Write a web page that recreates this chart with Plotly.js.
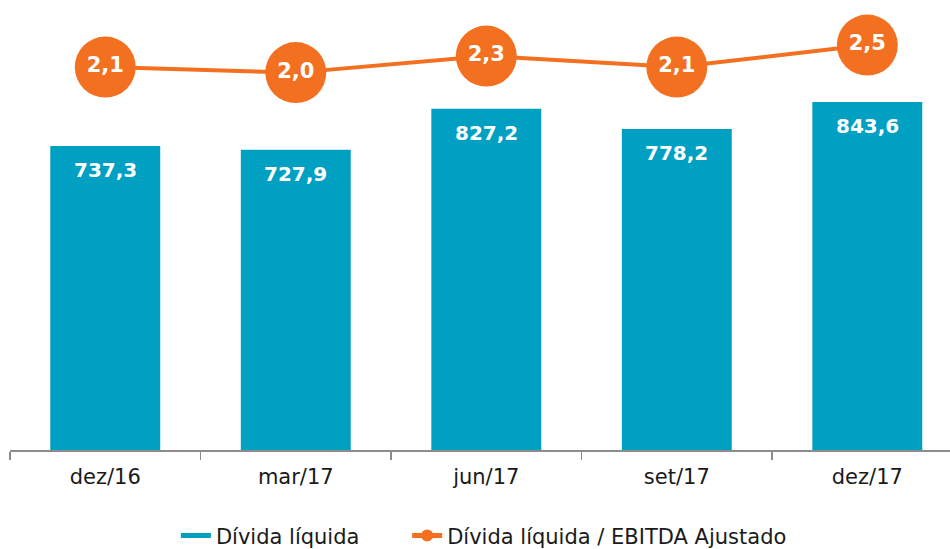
<!DOCTYPE html>
<html>
<head>
<meta charset="utf-8">
<script src="https://cdn.plot.ly/plotly-3.0.1.min.js"></script>
<style>html,body{margin:0;padding:0;background:#fff;}#chart{width:950px;height:549px;}</style>
</head>
<body>
<div id="chart"></div>
<script>
const categories = ['dez/16', 'mar/17', 'jun/17', 'set/17', 'dez/17'];
const dividaLiquida = [737.3, 727.9, 827.2, 778.2, 843.6];
const dividaEbitda = [2.1, 2.0, 2.3, 2.1, 2.5];
const barName = 'Dívida líquida';
const lineName = 'Dívida líquida / EBITDA Ajustado';

const fmt = v => v.toFixed(1).replace('.', ',');
const BLUE = '#00A0C3';
const ORANGE = '#F37021';
const FONT = 'DejaVu Sans, sans-serif';

const traces = [
  {
    type: 'bar', x: categories, y: dividaLiquida, name: barName,
    marker: {color: BLUE}, width: 0.577, showlegend: false,
    hoverinfo: 'skip'
  },
  {
    type: 'scatter', mode: 'lines', x: [null], y: [null], name: barName,
    line: {color: BLUE, width: 12}, showlegend: true, legend: 'legend',
    hoverinfo: 'skip'
  },
  {
    type: 'scatter', mode: 'lines+markers+text', x: categories, y: dividaEbitda,
    yaxis: 'y2', name: lineName, legend: 'legend2',
    line: {color: ORANGE, width: 4},
    marker: {color: ORANGE, size: 61},
    text: dividaEbitda.map(fmt), textposition: 'middle center',
    textfont: {family: FONT, size: 21, color: '#ffffff', weight: 'bold'},
    hoverinfo: 'skip'
  }
];

const annotations = categories.map((c, i) => ({
  x: c, y: dividaLiquida[i], xref: 'x', yref: 'y',
  text: '<b>' + fmt(dividaLiquida[i]) + '</b>',
  showarrow: false, yanchor: 'middle', yshift: -24,
  font: {family: FONT, size: 20, color: '#ffffff'}
}));

const legendBase = {
  orientation: 'h', yanchor: 'top', y: -0.145, xanchor: 'left',
  font: {family: FONT, size: 21, color: '#1a1a1a'},
  itemsizing: 'constant', bgcolor: 'rgba(0,0,0,0)'
};

const layout = {
  width: 950, height: 549,
  margin: {l: 10, r: 0, t: 0, b: 99, autoexpand: false},
  paper_bgcolor: '#ffffff', plot_bgcolor: '#ffffff',
  font: {family: FONT, size: 21, color: '#1a1a1a'},
  xaxis: {
    type: 'category', range: [-0.5, 4.434],
    showline: true, linecolor: '#8c8c8c', linewidth: 1.5,
    ticks: 'outside', tickson: 'boundaries', ticklen: 8, tickcolor: '#8c8c8c', tickwidth: 1.5,
    showgrid: false, zeroline: false,
    tickfont: {family: FONT, size: 21, color: '#1a1a1a'},
    ticklabelstandoff: 7
  },
  yaxis: {range: [0, 1091], visible: false, showgrid: false, zeroline: false},
  yaxis2: {range: [-4.86, 3.32], overlaying: 'y', side: 'right', visible: false, showgrid: false, zeroline: false},
  showlegend: true,
  legend: Object.assign({}, legendBase, {x: 0.1765}),
  legend2: Object.assign({}, legendBase, {x: 0.4225}),
  annotations: annotations
};

Plotly.newPlot('chart', traces, layout, {displayModeBar: false, staticPlot: true});
</script>
</body>
</html>
